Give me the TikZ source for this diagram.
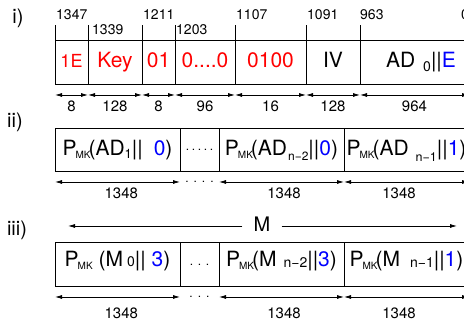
\documentclass[tikz,border=0pt]{standalone}
\usepackage{fontspec}
\setmainfont{TeX Gyre Heros}
\usetikzlibrary{positioning, arrows.meta}

\tikzstyle{field} = [rectangle, draw=black, line width=0.8pt, inner sep=0pt, outer sep=0pt, minimum height=44pt, text height=14pt, text depth=2pt, font=\fontsize{21}{24}\selectfont]
\tikzstyle{gapfield} = [field, text height=3pt, text depth=0pt, font=\fontsize{12}{12}\selectfont]
\tikzstyle{toplabel} = [anchor=west, inner sep=0pt, font=\fontsize{14}{16}\selectfont]
\tikzstyle{dimlabel} = [inner sep=0pt, yshift=-11.5pt, font=\fontsize{15}{17}\selectfont]
\tikzstyle{rowlabel} = [inner sep=0pt, font=\fontsize{20}{22}\selectfont]
\tikzstyle{tickline} = [line width=0.8pt]
\tikzstyle{dimarrow} = [<->, >={Latex[length=7pt,width=4pt]}, line width=0.8pt]
\tikzstyle{longarrow} = [->, >={Latex[length=7pt,width=4pt]}, line width=0.8pt]

% P with the small MK index
\newcommand{\pmk}{P\kern-1pt\raisebox{-3pt}{\fontsize{10}{10}\selectfont MK}}
% lowered index: [drop]{size}{text}
\newcommand{\lo}[3][5pt]{\raisebox{-#1}{\fontsize{#2}{#2}\selectfont #3}}

\begin{document}
\begin{tikzpicture}[x=1pt, y=-1pt]
    \clip (0,0) rectangle (464,320);

    %row labels
    \node (ri) [rowlabel] at (18,18) {i)};
    \node (rii) [rowlabel] at (15,122) {ii)};
    \node (riii) [rowlabel] at (17,230) {iii)};

    %header fields
    \node (f1) [field, anchor=north west, minimum width=33pt, text=red, font=\fontsize{18}{20}\selectfont] at (55,40) {1E};
    \node (f2) [field, right=0pt of f1, minimum width=54pt, text=red] {Key};
    \node (f3) [field, right=0pt of f2, minimum width=33pt, text=red] {01};
    \node (f4) [field, right=0pt of f3, minimum width=60pt, text=red] {0....0};
    \node (f5) [field, right=0pt of f4, minimum width=71pt, text=red] {0100};
    \node (f6) [field, right=0pt of f5, minimum width=54pt] {IV};
    \node (f7) [field, right=0pt of f6, minimum width=109pt] {\hspace{13pt}AD\hspace{8pt}\lo[4pt]{14}{0}||\textcolor{blue}{E}};

    %bit positions
    \draw [tickline] (f1.north west) -- ++(0,-15);
    \draw [tickline] (f2.north west) -- ++(0,-15);
    \draw [tickline] (f3.north west) -- ++(0,-15);
    \draw [tickline] (f4.north west) -- ++(0,-15);
    \draw [tickline] (f5.north west) -- ++(0,-15);
    \draw [tickline] (f6.north west) -- ++(0,-15);
    \draw [tickline] (f7.north west) -- ++(0,-15);
    \node (b1347) [toplabel] at (56,14.5) {1347};
    \node (b1339) [toplabel] at (92,30) {1339};
    \node (b1211) [toplabel] at (143,14.5) {1211};
    \node (b1203) [toplabel] at (176,30) {1203};
    \node (b1107) [toplabel] at (236,14.5) {1107};
    \node (b1091) [toplabel] at (307,14.5) {1091};
    \node (b963) [toplabel] at (360,14.5) {963};
    \node (b0) [toplabel] at (461,14.5) {0};

    %header widths
    \draw [dimarrow] ([yshift=-11pt]f1.south west) -- ([yshift=-11pt]f1.south east) node (w1) [dimlabel, midway] {8};
    \draw [dimarrow] ([yshift=-11pt]f2.south west) -- ([yshift=-11pt]f2.south east) node (w2) [dimlabel, midway] {128};
    \draw [dimarrow] ([yshift=-11pt]f3.south west) -- ([yshift=-11pt]f3.south east) node (w3) [dimlabel, midway] {8};
    \draw [dimarrow] ([yshift=-11pt]f4.south west) -- ([yshift=-11pt]f4.south east) node (w4) [dimlabel, midway] {96};
    \draw [dimarrow] ([yshift=-11pt]f5.south west) -- ([yshift=-11pt]f5.south east) node (w5) [dimlabel, midway] {16};
    \draw [dimarrow] ([yshift=-11pt]f6.south west) -- ([yshift=-11pt]f6.south east) node (w6) [dimlabel, midway] {128};
    \draw [dimarrow] ([yshift=-11pt]f7.south west) -- ([yshift=-11pt]f7.south east) node (w7) [dimlabel, midway] {964};

    %AD blocks
    \node (a1) [field, anchor=north west, minimum width=125pt, minimum height=43pt] at (55,128) {\pmk\kern-2pt(AD\lo[3pt]{13}{1}||\hspace{11pt}\textcolor{blue}{0})};
    \node (a2) [gapfield, right=0pt of a1, minimum width=39pt, minimum height=43pt] {.\kern2.7pt.\kern2.7pt.\kern2.7pt.\kern2.7pt.};
    \node (a3) [field, right=0pt of a2, minimum width=125pt, minimum height=43pt] {\pmk\kern-2pt(AD\hspace{1pt}\lo[5.5pt]{12}{n−2}||\textcolor{blue}{0})};
    \node (a4) [field, right=0pt of a3, minimum width=125pt, minimum height=43pt] {\pmk\kern-2pt(AD\hspace{7pt}\lo[6pt]{12.5}{n−1}||\textcolor{blue}{1})};

    \draw [dimarrow] ([yshift=-11pt]a1.south west) -- ([yshift=-11pt]a1.south east) node (l1) [dimlabel, pos=0.53] {1348};
    \node (g2) [inner sep=0pt, font=\fontsize{12}{12}\selectfont] at ([yshift=-11pt]a2.south) {.\kern5pt.\kern5pt.\kern5pt.};
    \draw [dimarrow] ([yshift=-11pt]a3.south west) -- ([yshift=-11pt]a3.south east) node (l3) [dimlabel, pos=0.52] {1348};
    \draw [dimarrow] ([yshift=-11pt]a4.south west) -- ([yshift=-11pt]a4.south east) node (l4) [dimlabel, pos=0.44] {1348};

    %message blocks
    \node (mlab) [rowlabel] at (262,224) {M};
    \coordinate (mleft) at (68,226);
    \coordinate (mright) at (457,226);
    \draw [longarrow] ([xshift=-11pt]mlab.west |- mleft) -- (mleft);
    \draw [longarrow] ([xshift=11pt]mlab.east |- mright) -- (mright);

    \node (m1) [field, anchor=north west, minimum width=125pt, text depth=8pt] at (55,242) {\pmk\ (M\hspace{4pt}\lo[0pt]{14}{0}||\ \textcolor{blue}{3})};
    \node (m2) [gapfield, right=0pt of m1, minimum width=39pt] {.\kern4.7pt.\kern4.7pt.};
    \node (m3) [field, right=0pt of m2, minimum width=125pt, text depth=8pt] {\pmk\kern-2pt(M\hspace{7pt}\lo[1pt]{14}{n−2}||\textcolor{blue}{3})};
    \node (m4) [field, right=0pt of m3, minimum width=125pt, text depth=8pt] {\pmk\kern-2pt(M\hspace{10pt}\lo[1pt]{14}{n−1}||\textcolor{blue}{1})};

    \draw [dimarrow] ([yshift=-11pt]m1.south west) -- ([yshift=-11pt]m1.south east) node (n1) [dimlabel, pos=0.53, yshift=-4.5pt] {1348};
    \node (g4) [inner sep=0pt, font=\fontsize{12}{12}\selectfont] at ([yshift=-11pt]m2.south) {.\kern5pt.\kern5pt.};
    \draw [dimarrow] ([yshift=-11pt]m3.south west) -- ([yshift=-11pt]m3.south east) node (n3) [dimlabel, pos=0.52, yshift=-4.5pt] {1348};
    \draw [dimarrow] ([yshift=-11pt]m4.south west) -- ([yshift=-11pt]m4.south east) node (n4) [dimlabel, pos=0.44, yshift=-4.5pt] {1348};

\end{tikzpicture}
\end{document}
